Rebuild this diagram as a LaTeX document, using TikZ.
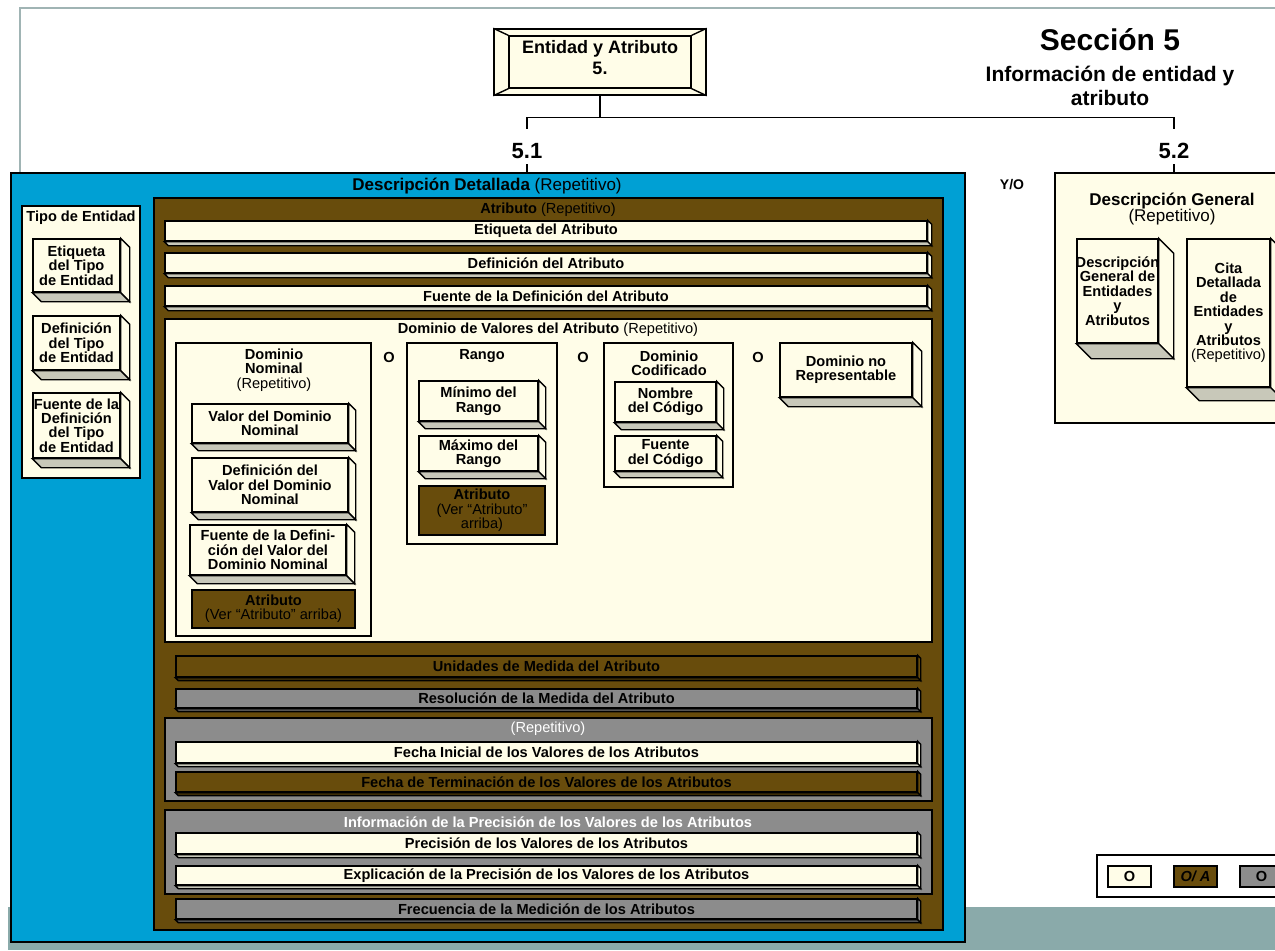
\documentclass[tikz,border=0pt]{standalone}
\usepackage{fontspec}
\setmainfont{Liberation Sans}
\usetikzlibrary{fit}

\definecolor{cream}{RGB}{255,253,232}
\definecolor{attrbrown}{RGB}{104,76,12}
\definecolor{optgray}{RGB}{140,140,140}
\definecolor{skyblue}{RGB}{0,160,212}
\definecolor{bandteal}{RGB}{138,170,170}
\definecolor{sidegray}{RGB}{200,200,185}
\definecolor{framegray}{RGB}{160,180,180}

\begin{document}
\begin{tikzpicture}[x=0.5pt, y=-0.5pt, line width=0.7pt,
  every node/.style={font=\bfseries\fontsize{7.3}{7.2}\selectfont, align=center, inner sep=0pt},
  holder/.style={draw, fill=cream},
  front/.style={draw, fill=cream},
  brownfront/.style={draw, fill=attrbrown},
  grayfront/.style={draw, fill=optgray, every label/.style={text=white}},
  numlabel/.style={font=\bfseries\fontsize{11}{13}\selectfont}]
  \useasboundingbox (0,0) rectangle (1275,950);

  \fill [bandteal] (8,907) rectangle (1275,950);
  \draw [framegray] (20,173) -- (20,8) -- (1275,8);

  % section header
  \node [holder, fit={(494,29) (706,95)}] (top) {};
  \node [draw, fit={(509,36) (691,88)}, label={[font=\bfseries\fontsize{9}{10.5}\selectfont, yshift=2pt]center:{Entidad y Atributo\\5.}}] (topin) {};
  \foreach \c in {north west, north east, south west, south east}
    \draw (top.\c) -- (topin.\c);

  \node [font=\bfseries\fontsize{15}{18}\selectfont] (sec) at (1110,40) {Sección 5};
  \node [font=\bfseries\fontsize{10.5}{12}\selectfont] (secinfo) at (1110,86) {Información de entidad y\\atributo};

  \node [numlabel] (n51) at (527,151) {5.1};
  \node [numlabel] (n52) at (1174,151) {5.2};
  \draw (top.south) -- ++(0,22) coordinate (j);
  \draw (j) -| ([yshift=7pt]n51.north);
  \draw (j) -| ([yshift=7pt]n52.north);

  % 5.1
  \node [draw, fill=skyblue, fit={(11,173) (965,942)}] (detail) {};
  \node [font=\bfseries\fontsize{8.5}{9}\selectfont] (detailt) at (487,186) {Descripción Detallada \mdseries(Repetitivo)};
  \draw ([yshift=-2.5pt]n51.south) -- (detail.north -| n51.south);

  \node [font=\bfseries\fontsize{7}{8}\selectfont] (yo) at (1012,185) {Y/O};

  \node [holder, fit={(22,206) (140,478)}] (tipo) {};
  \node (tipot) at (81,218) {Tipo de Entidad};
  \node [front, fit={(33,239) (120,292)}, label={center:{Etiqueta\\del Tipo\\de Entidad}}] (tipoetq) {};
  \node [front, fit={(33,316) (120,370)}, label={center:{Definición\\del Tipo\\de Entidad}}] (tipodef) {};
  \node [front, fit={(33,393) (120,458)}, label={center:{Fuente de la\\Definición\\del Tipo\\de Entidad}}] (tipofte) {};

  \node [draw, fill=attrbrown, fit={(154,198) (943,930)}] (attr) {};
  \node (attrt) at (548,210) {Atributo \mdseries(Repetitivo)};
  \node [front, fit={(165,221) (927,241)}, label=center:Etiqueta del Atributo] (attretq) {};
  \node [front, fit={(165,253) (927,273)}, label=center:Definición del Atributo] (attrdef) {};
  \node [front, fit={(165,286) (927,306)}, label=center:Fuente de la Definición del Atributo] (attrfte) {};

  \node [holder, fit={(165,319) (932,642)}] (dom) {};
  \node (domt) at (548,330) {Dominio de Valores del Atributo \mdseries(Repetitivo)};

  \node [holder, fit={(176,343) (371,636)}] (nom) {};
  \node (nomt) at (274,370) {Dominio\\Nominal\\\mdseries(Repetitivo)};
  \node [front, fit={(192,404) (348,443)}, label={center:{Valor del Dominio\\Nominal}}] (nomval) {};
  \node [front, fit={(192,458) (348,512)}, label={center:{Definición del\\Valor del Dominio\\Nominal}}] (nomdef) {};
  \node [front, fit={(190,525) (346,575)}, label={center:{Fuente de la Defini-\\ción del Valor del\\Dominio Nominal}}] (nomfte) {};
  \node [brownfront, fit={(192,590) (355,628)}, label={center:{Atributo\\\mdseries(Ver ``Atributo'' arriba)}}] (nomattr) {};

  \node (o1) at (389,357) {O};
  \node [holder, fit={(407,343) (557,544)}] (rango) {};
  \node (rangot) at (482,356) {Rango};
  \node [front, fit={(419,381) (538,421)}, label={center:{Mínimo del\\Rango}}] (rangomin) {};
  \node [front, fit={(419,436) (538,471)}, label={center:{Máximo del\\Rango}}] (rangomax) {};
  \node [brownfront, fit={(419,486) (545,535)}, label={center:{Atributo\\\mdseries(Ver ``Atributo''\\\mdseries arriba)}}] (rangoattr) {};

  \node (o2) at (583,357) {O};
  \node [holder, fit={(604,343) (733,487)}] (codif) {};
  \node (codift) at (669,363) {Dominio\\Codificado};
  \node [front, fit={(615,382) (716,422)}, label={center:{Nombre\\del Código}}] (codnom) {};
  \node [front, fit={(615,436) (716,471)}, label={center:{Fuente\\del Código}}] (codfte) {};

  \node (o3) at (758,357) {O};
  \node [front, fit={(780,343) (912,397)}, label={center:{Dominio no\\Representable}}] (norep) {};

  \node [brownfront, fit={(176,656) (917,677)}, label=center:Unidades de Medida del Atributo] (unid) {};
  \node [grayfront, fit={(176,689) (917,708)}, label=center:Resolución de la Medida del Atributo] (resol) {};

  \node [draw, fill=optgray, fit={(165,718) (932,801)}] (fechas) {};
  \node [text=white, font=\fontsize{7.3}{7.2}\selectfont] (fechast) at (548,729) {(Repetitivo)};
  \node [front, fit={(176,742) (917,763)}, label=center:Fecha Inicial de los Valores de los Atributos] (fechaini) {};
  \node [brownfront, fit={(176,772) (917,792)}, label=center:Fecha de Terminación de los Valores de los Atributos] (fechafin) {};

  \node [draw, fill=optgray, fit={(165,810) (932,894)}] (prec) {};
  \node [text=white] (prect) at (548,822) {Información de la Precisión de los Valores de los Atributos};
  \node [front, fit={(176,833) (917,854)}, label=center:Precisión de los Valores de los Atributos] (precval) {};
  \node [front, fit={(176,866) (917,885)}, label=center:Explicación de la Precisión de los Valores de los Atributos] (precexp) {};

  \node [grayfront, fit={(176,899) (917,919)}, label=center:Frecuencia de la Medición de los Atributos] (frec) {};

  % 5.2
  \node [holder, fit={(1055,173) (1295,423)}] (general) {};
  \node [font=\bfseries\fontsize{8.5}{8}\selectfont] (generalt) at (1172,209) {Descripción General\\\mdseries(Repetitivo)};
  \draw ([yshift=-2.5pt]n52.south) -- (general.north -| n52.south);
  \node [front, fit={(1077,239) (1158,343)}, label={center:{Descripción\\General de\\Entidades\\y\\Atributos}}] (gendesc) {};
  \node [front, fit={(1187,239) (1270,387)}, label={center:{Cita\\Detallada\\de\\Entidades\\y\\Atributos\\\mdseries(Repetitivo)}}] (gencita) {};

  % legend
  \node [draw, fill=white, fit={(1097,855) (1295,897)}] (legend) {};
  \node [front, fit={(1108,866) (1151,887)}, label=center:O] (lego) {};
  \node [brownfront, fit={(1174,866) (1217,887)}, label={center:{\itshape O/ A}}] (legoa) {};
  \node [grayfront, fit={(1240,866) (1283,887)}, label=center:O] (legog) {};

  % depth of the boxes
  \foreach \n/\d/\f/\s in {tipoetq/9/cream/sidegray, tipodef/9/cream/sidegray, tipofte/9/cream/sidegray,
      gendesc/15/cream/sidegray, gencita/13/cream/sidegray,
      attretq/4/cream/sidegray, attrdef/4/cream/sidegray, attrfte/4/cream/sidegray,
      nomval/7/cream/sidegray, nomdef/7/cream/sidegray, nomfte/8/cream/sidegray,
      rangomin/7/cream/sidegray, rangomax/7/cream/sidegray,
      codnom/7/cream/sidegray, codfte/6/cream/sidegray, norep/9/cream/sidegray,
      unid/3/attrbrown/attrbrown!60!black, resol/3/optgray/optgray!60!black,
      fechaini/3/cream/sidegray, fechafin/3/attrbrown/attrbrown!60!black,
      precval/3/cream/sidegray, precexp/3/cream/sidegray, frec/3/optgray/optgray!60!black} {
    \filldraw [fill=\f] (\n.north east) -- ++(\d,\d) -- ([shift={(\d,\d)}]\n.south east) -- (\n.south east) -- cycle;
    \filldraw [fill=\s] (\n.south west) -- ++(\d,\d) -- ([shift={(\d,\d)}]\n.south east) -- (\n.south east) -- cycle;
  }
\end{tikzpicture}
\end{document}
